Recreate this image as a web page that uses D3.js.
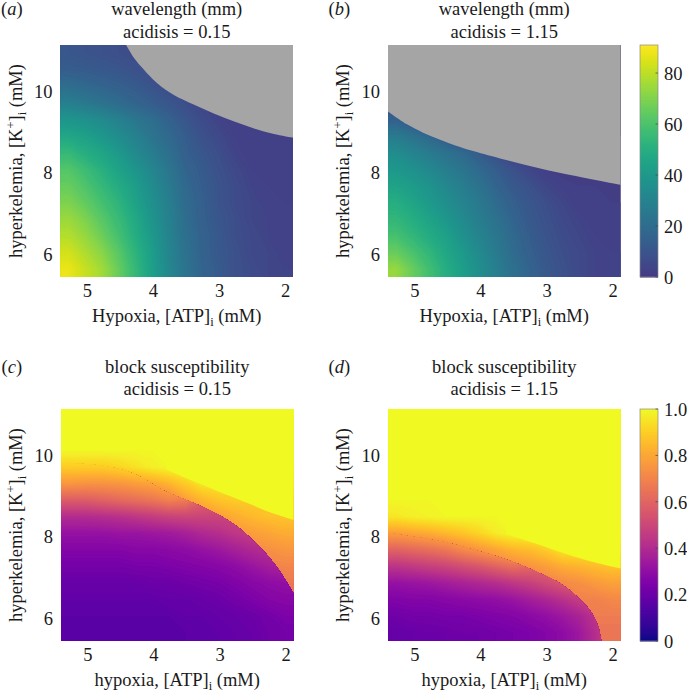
<!DOCTYPE html>
<html><head><meta charset="utf-8">
<script src="https://cdn.jsdelivr.net/npm/d3@7"></script>
<style>html,body{margin:0;padding:0;background:#fff}svg{display:block}text{font-family:"Liberation Serif",serif;fill:#1a1a1a}</style>
</head><body><svg id="c" width="687" height="697"></svg>
<script>
const atpDomain=[5.4,1.88], kDomain=[11.13,5.44];
const atpTicks=[5,4,3,2], kTicks=[6,8,10];
const wlTicks=[0,20,40,60,80], blockTicks=[0,0.2,0.4,0.6,0.8,1];
const wlMax=91;

// wavelength (mm), rows from high K to low K, columns from high ATP to low ATP
const wlA=[
[11,10,9,8,7,6,5,4,3,2,2,2,2,2],
[14,13,12,11,9,7,5,4,3,2,2,2,2,2],
[21,19,17,15,13,10,7,5,4,3,2,2,2,2],
[29,26,23,20,17,14,11,8,5,3,2,2,2,2],
[39,37,34,30,25,21,16,11,7,4,2,2,2,2],
[47,44,40,35,30,24,19,14,9,6,3,2,2,2],
[55,50,46,41,34,28,22,15,11,8,4,2,2,2],
[62,57,51,45,39,32,25,17,13,9,6,3,2,2],
[66,61,55,49,43,35,27,19,14,10,7,4,3,2],
[70,65,59,53,45,37,29,20,15,10,7,5,3,3],
[75,70,63,56,48,39,30,21,15,11,8,5,4,3],
[79,74,67,59,50,41,31,22,16,12,8,6,4,3],
[84,78,72,63,53,43,32,23,16,12,9,6,5,3],
[88,82,76,66,55,44,33,24,17,13,9,7,5,4]];
const wlB=[
[2,2,2,2,2,2,2,2,2,2,2,2,2,2],
[2,2,2,2,2,2,2,2,2,2,2,2,2,2],
[2,2,2,2,2,2,2,2,2,2,2,2,2,2],
[9,4,2,2,2,2,2,2,2,2,2,2,2,2],
[15,10,5,3,2,2,2,2,2,2,2,2,2,2],
[27,23,18,12,7,3,2,2,2,2,2,2,2,2],
[35,31,27,23,19,13,8,3,2,1,1,1,1,1],
[40,37,33,28,24,19,14,9,5,2,1,1,1,1],
[45,42,38,33,28,23,17,12,9,5,3,2,2,1],
[50,46,41,36,31,26,20,15,11,8,5,2,2,2],
[54,50,45,40,34,28,23,17,12,9,6,4,2,2],
[59,54,49,44,37,31,25,19,14,10,7,5,3,2],
[66,60,54,47,41,34,27,20,15,11,8,6,4,3],
[74,66,58,50,43,36,29,22,17,12,9,6,4,3]];
// grey (no wave) boundary
const greyAtpA=[4.405,4.29,4.14,3.94,3.69,3.385,3.08,2.78,2.48,2.17,1.88];
const greyKA=[11.13,10.82,10.53,10.20,9.91,9.67,9.45,9.26,9.09,8.95,8.86];
const greyAtpB=[5.4,5.12,4.87,4.62,4.37,4.11,3.61,3.11,2.60,1.88];
const greyKB=[9.50,9.19,8.98,8.81,8.66,8.53,8.31,8.11,7.93,7.70];

// block susceptibility: upper sheet and lower sheet, split along a ridge
const blockCUpper=[
[1,1,1,1,1,1,1,1,1,1,1,1,1,1],
[1,1,1,1,1,1,1,1,1,1,1,1,1,1],
[1,1,1,1,1,1,1,1,1,1,1,1,1,1],
[.9,.9,.9,.92,.95,.98,1,1,1,1,1,1,1,1],
[.76,.75,.75,.76,.78,.8,.84,.9,.96,.96,.96,.96,.96,.96],
[.58,.58,.6,.62,.64,.66,.7,.78,.84,.88,.9,.9,.9,.9],
[.6,.6,.6,.6,.62,.64,.68,.72,.75,.78,.82,.85,.87,.88],
[.6,.6,.6,.6,.6,.62,.64,.66,.68,.72,.76,.78,.8,.82],
[.6,.6,.6,.6,.6,.6,.62,.64,.66,.68,.7,.73,.74,.76],
[.6,.6,.6,.6,.6,.6,.6,.62,.64,.66,.67,.68,.7,.71],
[.6,.6,.6,.6,.6,.6,.6,.6,.62,.64,.65,.66,.66,.67],
[.6,.6,.6,.6,.6,.6,.6,.6,.6,.62,.64,.65,.65,.65],
[.6,.6,.6,.6,.6,.6,.6,.6,.6,.62,.64,.65,.65,.65],
[.6,.6,.6,.6,.6,.6,.6,.6,.6,.62,.64,.65,.65,.65]];
const blockCLower=[
[1,1,1,1,1,1,1,1,1,1,1,1,1,1],
[1,1,1,1,1,1,1,1,1,1,1,1,1,1],
[1,1,1,1,1,1,1,1,1,1,1,1,1,1],
[.9,.9,.9,.92,.95,.98,1,1,1,1,1,1,1,1],
[.76,.75,.75,.76,.78,.8,.84,.88,.9,.9,.9,.9,.9,.9],
[.58,.58,.6,.62,.64,.66,.7,.68,.6,.56,.54,.52,.5,.5],
[.41,.41,.42,.43,.45,.47,.49,.5,.5,.5,.5,.5,.5,.5],
[.32,.32,.32,.33,.33,.34,.35,.37,.4,.42,.45,.47,.48,.48],
[.27,.27,.27,.27,.28,.28,.29,.3,.32,.34,.37,.4,.42,.44],
[.23,.23,.23,.23,.24,.24,.25,.26,.27,.28,.3,.33,.36,.38],
[.2,.2,.2,.2,.2,.21,.21,.22,.23,.24,.26,.28,.3,.31],
[.18,.18,.18,.18,.18,.18,.19,.19,.2,.21,.23,.25,.27,.28],
[.17,.17,.17,.17,.17,.17,.17,.18,.18,.19,.2,.21,.23,.25],
[.16,.16,.16,.16,.16,.16,.16,.17,.17,.18,.19,.2,.22,.23]];
const blockDUpper=[
[1,1,1,1,1,1,1,1,1,1,1,1,1,1],
[1,1,1,1,1,1,1,1,1,1,1,1,1,1],
[1,1,1,1,1,1,1,1,1,1,1,1,1,1],
[1,1,1,1,1,1,1,1,1,1,1,1,1,1],
[1,1,1,1,1,1,1,1,1,1,1,1,1,1],
[1,1,1,1,1,1,1,1,1,1,1,1,1,1],
[.96,.98,.99,1,1,1,1,1,1,1,1,1,1,1],
[.78,.8,.82,.85,.88,.92,.97,1,1,1,1,1,1,1],
[.6,.62,.64,.67,.72,.76,.8,.84,.86,.9,.96,.96,.96,.96],
[.55,.55,.55,.6,.62,.66,.7,.72,.75,.78,.82,.84,.86,.88],
[.55,.55,.55,.55,.6,.62,.64,.66,.68,.7,.72,.74,.77,.79],
[.55,.55,.55,.55,.55,.6,.62,.64,.65,.66,.68,.7,.7,.72],
[.55,.55,.55,.55,.55,.55,.6,.62,.64,.65,.66,.67,.68,.68],
[.55,.55,.55,.55,.55,.55,.55,.6,.62,.64,.65,.65,.66,.66]];
const blockDLower=[
[1,1,1,1,1,1,1,1,1,1,1,1,1,1],
[1,1,1,1,1,1,1,1,1,1,1,1,1,1],
[1,1,1,1,1,1,1,1,1,1,1,1,1,1],
[1,1,1,1,1,1,1,1,1,1,1,1,1,1],
[1,1,1,1,1,1,1,1,1,1,1,1,1,1],
[1,1,1,1,1,1,1,1,1,1,1,1,1,1],
[.96,.98,.99,1,1,1,1,1,1,1,1,1,1,1],
[.78,.8,.82,.85,.88,.92,.97,1,1,1,1,1,1,1],
[.6,.62,.64,.67,.72,.76,.8,.82,.8,.78,.76,.74,.72,.72],
[.44,.46,.48,.5,.53,.56,.6,.64,.62,.6,.6,.6,.6,.6],
[.32,.33,.34,.36,.38,.4,.42,.45,.48,.52,.56,.58,.58,.58],
[.26,.27,.27,.28,.29,.3,.31,.33,.36,.39,.43,.47,.5,.5],
[.22,.23,.23,.24,.24,.25,.26,.27,.29,.31,.34,.38,.44,.5],
[.19,.2,.21,.21,.22,.22,.23,.24,.25,.27,.3,.34,.42,.5]];
// ridge between the sheets
const ridgeAtpC=[5.40,4.82,4.31,3.81,3.31,2.80,2.50,2.30,2.10,1.88];
const ridgeKC=[9.80,9.75,9.55,9.10,8.77,8.33,7.92,7.59,7.18,6.61];
const ridgeAtpD=[5.40,4.62,4.11,3.61,3.11,2.85,2.60,2.35,2.22,2.17];
const ridgeKD=[8.09,7.89,7.68,7.44,7.11,6.91,6.62,6.21,5.81,5.44];
// edge of the saturated (block = 1) zone
const satAtpC=[3.81,3.56,3.26,3.01,2.76,2.51,2.26,1.88];
const satKC=[9.65,9.47,9.27,9.10,8.94,8.78,8.61,8.41];
const satAtpD=[3.61,3.11,2.60,2.25,1.88];
const satKD=[8.06,7.80,7.52,7.36,7.22];

const svg=d3.select('#c');
const PW=232.5, PH=232, FS=18.5;
const colorWl=v=>d3.interpolateViridis(.17+.83*v/wlMax);
const colorBlock=v=>d3.interpolatePlasma(v);
const grey='#a5a5a5';
let uid=0;

function rich(sel,parts){
  let shift=0;
  parts.forEach(p=>{
    const t=sel.append('tspan').text(p[0]);
    const want=p[1]==='sub'?4:p[1]==='sup'?-7:0;
    t.attr('dy',want-shift||null);
    if(p[1]) t.attr('font-size',12.5);
    shift=want;
  });
}
function pad(grid){
  const rows=grid.map(r=>[r[0],...r,r[r.length-1]]);
  return [rows[0],...rows,rows[rows.length-1]];
}
function sheet(g,grid,thresholds,color,xs,ys,clip){
  const n=grid[0].length,m=grid.length,p=pad(grid);
  const gx=d3.scaleLinear().domain([1,n+1]).range(atpDomain);
  const gy=d3.scaleLinear().domain([1,m+1]).range(kDomain);
  const path=d3.geoPath(d3.geoTransform({point(x,y){this.stream.point(xs(gx(x)),ys(gy(y)));}}));
  const cs=d3.contours().size([n+2,m+2]).thresholds(thresholds)(p.flat());
  const h=g.append('g').attr('clip-path',`url(#${clip})`);
  h.selectAll('path').data(cs).join('path').attr('d',path).attr('fill',d=>color(d.value));
}
function panel(o){
  const g=svg.append('g');
  const xs=d3.scaleLinear().domain(atpDomain).range([o.x,o.x+PW]);
  const ys=d3.scaleLinear().domain(kDomain).range([o.y,o.y+PH]);
  const area=(a,k,base)=>d3.area().x((d,i)=>xs(a[i])).y0(ys(base)).y1((d,i)=>ys(k[i])).curve(d3.curveCatmullRom)(a);
  const box=s=>s.attr('x',o.x).attr('y',o.y).attr('width',PW).attr('height',PH);
  const pid='plot'+(uid++);
  svg.append('clipPath').attr('id',pid).append('rect').call(box);
  sheet(g,o.grid,o.thresholds,o.color,xs,ys,pid);
  if(o.lower){
    const id='clip'+(uid++);
    svg.append('clipPath').attr('id',id).append('path').attr('d',area(o.ridgeA,o.ridgeK,kDomain[1]));
    sheet(g,o.lower,o.thresholds,o.color,xs,ys,id);
  }
  if(o.satA) g.append('path').attr('d',area(o.satA,o.satK,kDomain[0])).attr('fill',o.color(1));
  if(o.greyA) g.append('path').attr('d',area(o.greyA,o.greyK,kDomain[0])).attr('fill',grey);

  const ax=g.append('g').attr('transform',`translate(0,${o.y+PH})`).call(d3.axisBottom(xs).tickValues(atpTicks).tickFormat(d3.format('d')).tickSize(0).tickPadding(0));
  ax.select('.domain').remove();
  ax.selectAll('text').attr('font-size',FS).attr('font-family','Liberation Serif').attr('dy',0).attr('y',20.3).attr('fill','#1a1a1a');
  const ay=g.append('g').attr('transform',`translate(${o.x},0)`).call(d3.axisLeft(ys).tickValues(kTicks).tickFormat(d3.format('d')).tickSize(0).tickPadding(0));
  ay.select('.domain').remove();
  ay.selectAll('text').attr('font-size',FS).attr('font-family','Liberation Serif').attr('x',-8).attr('dy','.34em').attr('fill','#1a1a1a');

  g.append('text').attr('x',o.x+PW/2).attr('y',o.titleY).attr('text-anchor','middle').attr('font-size',FS).text(o.title);
  g.append('text').attr('x',o.x+PW/2).attr('y',o.titleY+22.5).attr('text-anchor','middle').attr('font-size',FS).text(o.sub);
  const xl=g.append('text').attr('x',o.x+PW/2).attr('y',o.y+PH+44.7).attr('text-anchor','middle').attr('font-size',FS);
  rich(xl,[[o.xlabel+', [ATP]'],['i','sub'],[' (mM)']]);
  const yl=g.append('text').attr('transform',`translate(${o.x-38.8},${o.y+PH/2}) rotate(-90)`).attr('text-anchor','middle').attr('font-size',FS);
  rich(yl,[['hyperkelemia, [K'],['+','sup'],[']'],['i','sub'],[' (mM)']]);
  const tag=g.append('text').attr('x',o.x-59.5).attr('y',o.titleY).attr('font-size',FS);
  tag.append('tspan').text('(');tag.append('tspan').attr('font-style','italic').text(o.tag);tag.append('tspan').text(')');
}
function colorbar(y,domainMax,ticks,color,fmt){
  const X=640,W=18,H=232;
  const s=d3.scaleLinear().domain([0,domainMax]).range([y+H,y]);
  const g=svg.append('g');
  g.selectAll('rect').data(d3.range(0,H,1)).join('rect')
    .attr('x',X).attr('width',W).attr('y',d=>y+d).attr('height',1.5)
    .attr('fill',d=>color(s.invert(y+d+.5)));
  g.append('rect').attr('x',X).attr('y',y).attr('width',W).attr('height',H).attr('fill','none').attr('stroke','#8a8a8a').attr('stroke-width',.7);
  const a=g.append('g').attr('transform',`translate(${X+W},0)`).call(d3.axisRight(s).tickValues(ticks).tickFormat(fmt).tickSize(0));
  a.select('.domain').remove();
  a.selectAll('text').attr('font-size',FS).attr('font-family','Liberation Serif').attr('x',6).attr('dy','.34em').attr('fill','#1a1a1a');
  g.selectAll('line.t').data(ticks).join('line').attr('class','t').attr('x1',X+W-2.5).attr('x2',X+W).attr('y1',d=>s(d)).attr('y2',d=>s(d)).attr('stroke','#444').attr('stroke-width',.7);
}
const wlTh=d3.range(0,wlMax,1);
const blTh=d3.range(.14,1.001,.01);
panel({x:60.5,y:45,titleY:15,grid:wlA,thresholds:wlTh,color:colorWl,greyA:greyAtpA,greyK:greyKA,title:'wavelength (mm)',sub:'acidisis = 0.15',xlabel:'Hypoxia',tag:'a'});
panel({x:388,y:45,titleY:15,grid:wlB,thresholds:wlTh,color:colorWl,greyA:greyAtpB,greyK:greyKB,title:'wavelength (mm)',sub:'acidisis = 1.15',xlabel:'Hypoxia',tag:'b'});
panel({x:61,y:409,titleY:372.5,grid:blockCUpper,lower:blockCLower,ridgeA:ridgeAtpC,ridgeK:ridgeKC,satA:satAtpC,satK:satKC,thresholds:blTh,color:colorBlock,title:'block susceptibility',sub:'acidisis = 0.15',xlabel:'hypoxia',tag:'c'});
panel({x:388,y:409,titleY:372.5,grid:blockDUpper,lower:blockDLower,ridgeA:ridgeAtpD,ridgeK:ridgeKD,satA:satAtpD,satK:satKD,thresholds:blTh,color:colorBlock,title:'block susceptibility',sub:'acidisis = 1.15',xlabel:'hypoxia',tag:'d'});
colorbar(45,wlMax,wlTicks,colorWl,d3.format('d'));
colorbar(409,1,blockTicks,colorBlock,d=>d===0?'0':d3.format('.1f')(d));
</script></body></html>
